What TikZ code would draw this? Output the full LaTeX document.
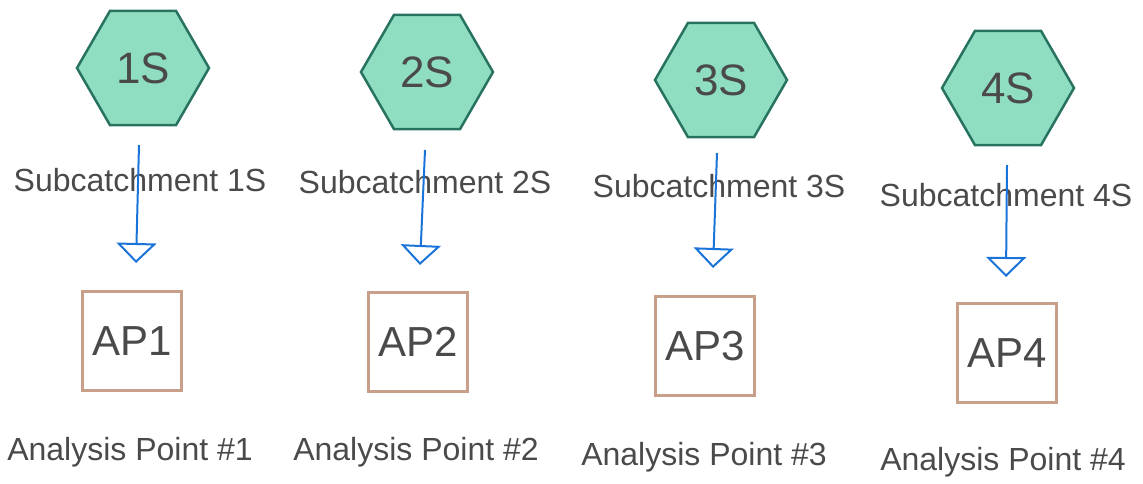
\documentclass[tikz,border=0pt]{standalone}
\usepackage{fontspec}
\setmainfont{Liberation Sans}
\usetikzlibrary{shapes.geometric,arrows.meta}
\definecolor{hexfill}{RGB}{144,222,194}
\definecolor{hexline}{RGB}{40,115,96}
\definecolor{boxline}{RGB}{200,160,138}
\definecolor{flowblue}{RGB}{26,115,217}
\definecolor{txt}{RGB}{74,74,74}
\tikzset{
  hexnode/.style={regular polygon, regular polygon sides=6, minimum size=132pt, inner sep=0pt,
    fill=hexfill, draw=hexline, line width=2.5pt, text=txt, font=\fontsize{44}{44}\selectfont},
  apbox/.style={rectangle, minimum width=99pt, minimum height=99pt, inner sep=0pt,
    draw=boxline, line width=2.3pt, text=txt, font=\fontsize{42}{42}\selectfont},
  lbl/.style={text=txt, font=\fontsize{32}{32}\selectfont, inner sep=0pt},
  flow/.style={draw=flowblue, line width=2pt, -{Triangle[open, length=20pt, width=40pt]}},
}
\begin{document}
\begin{tikzpicture}[x=1pt, y=-1pt]
\useasboundingbox (0,0) rectangle (1143,484);
% hexagons
\node[hexnode] (h1) at (143,68) {1S};
\node[hexnode] (h2) at (427,72) {2S};
\node[hexnode] (h3) at (721,80) {3S};
\node[hexnode] (h4) at (1008,88) {4S};
% subcatchment labels
\node[lbl] (l1) at (140,180) {Subcatchment 1S};
\node[lbl] (l2) at (425,182) {Subcatchment 2S};
\node[lbl] (l3) at (719,186) {Subcatchment 3S};
\node[lbl] (l4) at (1006,195) {Subcatchment 4S};
% analysis points
\node[apbox] (a1) at (132,341) {AP1};
\node[apbox] (a2) at (418,342) {AP2};
\node[apbox] (a3) at (705,346) {AP3};
\node[apbox] (a4) at (1007,353) {AP4};
% analysis labels
\node[lbl] (p1) at (130,452) {Analysis Point \#1};
\node[lbl] (p2) at (416,452) {Analysis Point \#2};
\node[lbl] (p3) at (704,457) {Analysis Point \#3};
\node[lbl] (p4) at (1003,462) {Analysis Point \#4};
% connectors
\coordinate (s1) at (139,145); \coordinate (t1) at (136,263);
\coordinate (s2) at (425,150); \coordinate (t2) at (420,265);
\coordinate (s3) at (717,153); \coordinate (t3) at (713,268);
\coordinate (s4) at (1007,165); \coordinate (t4) at (1006,277);
\draw[flow] (s1) -- (t1);
\draw[flow] (s2) -- (t2);
\draw[flow] (s3) -- (t3);
\draw[flow] (s4) -- (t4);
\end{tikzpicture}
\end{document}
